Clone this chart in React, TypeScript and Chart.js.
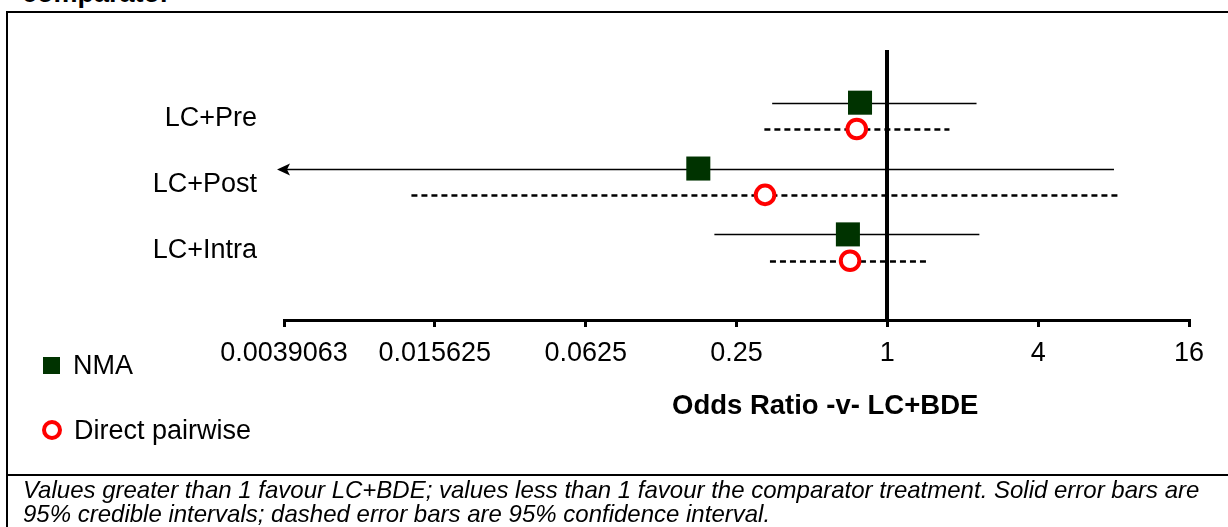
import React, { useEffect, useRef } from 'react';
import { Chart, registerables } from 'chart.js';

Chart.register(...registerables);

// ---- data ----
const categories = ['LC+Pre', 'LC+Post', 'LC+Intra'];
const categoryPositions = [3, 2, 1];
const nmaOR = [0.778, 0.176, 0.696];
const nmaLower = [0.347, 0.003, 0.204];
const nmaUpper = [2.27, 8.03, 2.33];
const directOR = [0.755, 0.325, 0.71];
const directLower = [0.323, 0.0126, 0.34];
const directUpper = [1.77, 8.33, 1.47];
const xTickValues = [0.00390625, 0.015625, 0.0625, 0.25, 1, 4, 16];
const xTickLabels = ['0.0039063', '0.015625', '0.0625', '0.25', '1', '4', '16'];
const seriesOffset = 0.2;

const FONT = '"Liberation Sans", Arial, sans-serif';

const forestPlugin = {
  id: 'forest',
  beforeDatasetsDraw(chart: any) {
    const { ctx, chartArea, scales } = chart;
    const x = scales.x;
    const y = scales.y;
    const drawBars = (lo: number[], hi: number[], offset: number, dashed: boolean, width: number) => {
      ctx.save();
      ctx.strokeStyle = '#000';
      ctx.fillStyle = '#000';
      ctx.lineWidth = width;
      categoryPositions.forEach((pos, i) => {
        const py = Math.round(y.getPixelForValue(pos + offset)) + 0.5;
        const clipped = lo[i] < x.min;
        const tip = chartArea.left - 7;
        const x1 = clipped ? tip + 10 : x.getPixelForValue(lo[i]);
        const x2 = x.getPixelForValue(Math.min(hi[i], x.max));
        ctx.setLineDash(dashed ? [6, 4] : []);
        ctx.beginPath();
        ctx.moveTo(x1, py);
        ctx.lineTo(x2, py);
        ctx.stroke();
        if (clipped) {
          ctx.setLineDash([]);
          ctx.beginPath();
          ctx.moveTo(tip, py);
          ctx.lineTo(tip + 13, py - 6);
          ctx.lineTo(tip + 10, py);
          ctx.lineTo(tip + 13, py + 6);
          ctx.closePath();
          ctx.fill();
        }
      });
      ctx.restore();
    };
    drawBars(nmaLower, nmaUpper, seriesOffset, false, 1.6);
    drawBars(directLower, directUpper, -seriesOffset, true, 2.5);

    // reference line at OR = 1
    const px = Math.round(x.getPixelForValue(1));
    ctx.save();
    ctx.fillStyle = '#000';
    ctx.fillRect(px - 2, chartArea.top, 4, chartArea.bottom - chartArea.top);
    ctx.restore();
  },
};

export default function App() {
  const canvasRef = useRef<HTMLCanvasElement | null>(null);

  useEffect(() => {
    if (!canvasRef.current) return;
    const chart = new Chart(canvasRef.current, {
      type: 'scatter',
      data: {
        datasets: [
          {
            label: 'NMA',
            data: categoryPositions.map((p, i) => ({ x: nmaOR[i], y: p + seriesOffset })),
            pointStyle: 'rect',
            pointRadius: 17,
            pointHoverRadius: 17,
            backgroundColor: '#003300',
            borderColor: '#003300',
            borderWidth: 0,
          },
          {
            label: 'Direct pairwise',
            data: categoryPositions.map((p, i) => ({ x: directOR[i], y: p - seriesOffset })),
            pointStyle: 'circle',
            pointRadius: 9.3,
            pointHoverRadius: 9.3,
            backgroundColor: '#ffffff',
            borderColor: '#ff0000',
            borderWidth: 4,
          },
        ],
      },
      options: {
        animation: false,
        responsive: false,
        events: [],
        layout: { padding: { left: 0, right: 39, top: 50, bottom: 0 } },
        plugins: { legend: { display: false }, tooltip: { enabled: false } },
        scales: {
          x: {
            type: 'logarithmic',
            position: 'bottom',
            min: 0.00390625,
            max: 16,
            bounds: 'data',
            afterBuildTicks: (s: any) => {
              s.ticks = xTickValues.map((v) => ({ value: v }));
            },
            afterFit: (s: any) => {
              s.height = 207;
            },
            border: { display: true, color: '#000', width: 3 },
            grid: {
              display: true,
              drawOnChartArea: false,
              drawTicks: true,
              tickLength: 7,
              color: '#000',
              lineWidth: 3,
            },
            ticks: {
              autoSkip: false,
              maxRotation: 0,
              minRotation: 0,
              padding: 10,
              color: '#000',
              font: { family: FONT, size: 27 },
              callback: (_v: any, i: number) => xTickLabels[i],
            },
          },
          y: {
            type: 'linear',
            min: -0.1,
            max: 4,
            bounds: 'data',
            afterBuildTicks: (s: any) => {
              s.ticks = [...categoryPositions].sort((a, b) => a - b).map((v) => ({ value: v }));
            },
            afterFit: (s: any) => {
              s.width = 284;
            },
            grid: { display: false, drawTicks: false },
            border: { display: false },
            ticks: {
              padding: 27,
              labelOffset: 3,
              color: '#000',
              font: { family: FONT, size: 27 },
              callback: (v: any) => categories[categoryPositions.indexOf(Number(v))] ?? '',
            },
          },
        },
      } as any,
      plugins: [forestPlugin],
    });
    return () => chart.destroy();
  }, []);

  const abs: React.CSSProperties = { position: 'absolute', whiteSpace: 'nowrap' };

  return (
    <div
      style={{
        position: 'fixed',
        left: 0,
        top: 0,
        width: 1228,
        height: 527,
        background: '#fff',
        overflow: 'hidden',
        fontFamily: FONT,
        color: '#000',
      }}
    >
      <div style={{ ...abs, left: 22, top: -20, fontSize: 27, fontWeight: 'bold', lineHeight: '27px' }}>
        comparator
      </div>
      <div
        style={{
          position: 'absolute',
          left: 6,
          top: 11,
          width: 1240,
          height: 600,
          borderLeft: '2px solid #000',
          borderTop: '2px solid #000',
        }}
      />
      <div style={{ position: 'absolute', left: 6, top: 474, width: 1240, height: 0, borderTop: '2px solid #000' }} />
      <canvas
        ref={canvasRef}
        width={1228}
        height={527}
        style={{ position: 'absolute', left: 0, top: 0, width: 1228, height: 527 }}
      />
      {/* legend */}
      <div style={{ position: 'absolute', left: 43, top: 357, width: 17, height: 17, background: '#003300' }} />
      <div style={{ ...abs, left: 73, top: 352, fontSize: 27, lineHeight: '27px' }}>NMA</div>
      <div
        style={{
          position: 'absolute',
          left: 42,
          top: 420,
          width: 20,
          height: 20,
          boxSizing: 'border-box',
          border: '4px solid #ff0000',
          borderRadius: '50%',
          background: '#fff',
        }}
      />
      <div style={{ ...abs, left: 74, top: 417, fontSize: 27, lineHeight: '27px' }}>Direct pairwise</div>
      {/* axis title */}
      <div style={{ ...abs, left: 672, top: 391, fontSize: 27.5, fontWeight: 'bold', lineHeight: '27px' }}>
        Odds Ratio -v- LC+BDE
      </div>
      {/* caption */}
      <div style={{ ...abs, left: 23, top: 478, fontSize: 24, lineHeight: '24px', fontStyle: 'italic' }}>
        Values greater than 1 favour LC+BDE; values less than 1 favour the comparator treatment. Solid error bars are
        <br />
        95% credible intervals; dashed error bars are 95% confidence interval.
      </div>
    </div>
  );
}
